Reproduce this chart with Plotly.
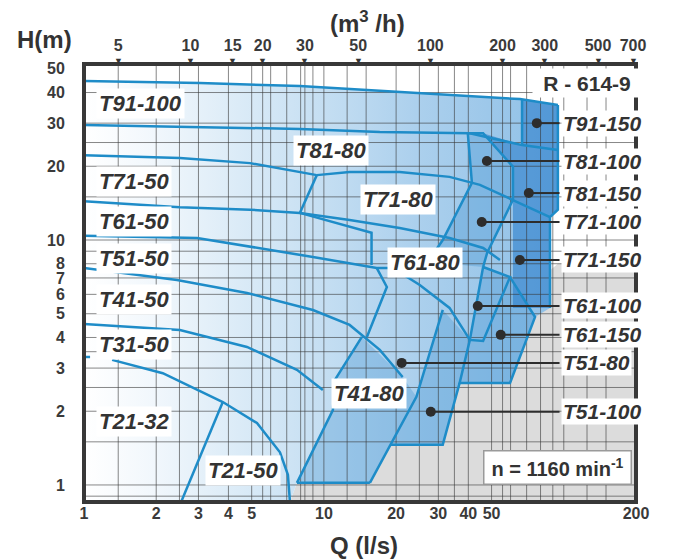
import math
import plotly.graph_objects as go

# ---------------- data ----------------
q_ticks = [1, 2, 3, 4, 5, 10, 20, 30, 40, 50, 200]          # l/s
h_ticks = [1, 2, 3, 4, 5, 6, 7, 8, 10, 20, 30, 40, 50]      # m
m3h_ticks = [5, 10, 15, 20, 30, 50, 100, 200, 300, 500, 700]  # m3/h (top axis)

grid_q = [1.389, 2, 2.5, 3, 4, 5, 5.556, 6, 7, 8, 8.333, 9, 10, 12.5, 15, 20, 25, 30,
          35, 40, 50, 55.56, 60, 70, 80, 90, 100, 125, 150]
grid_h = [0.9, 1, 1.5, 2, 2.5, 3, 3.5, 4, 5, 6, 7, 8, 9, 10, 15, 20, 25, 30, 40]

# pump curves / boundaries  (Q l/s, H m)
c_t91_max = [(1.0, 44.6), (3.04, 43.7), (7.94, 42.5), (20.7, 40.2), (33.4, 39.1), (65.7, 37.6), (94.5, 35.6)]
c_t81_max = [(1.0, 29.5), (3.04, 28.9), (7.94, 28.4), (17.1, 27.6), (40.6, 27.3), (67.0, 24.4), (94.5, 23.3)]
c_t91_split = [(67.0, 37.6), (67.0, 24.4)]
c_right_edge = [(94.5, 35.6), (94.5, 13.3), (87.6, 12.4), (87.6, 5.28)]
c_t71_50_max = [(1.0, 22.2), (2.51, 21.6), (4.92, 20.6), (9.34, 18.4)]
c_t71_80_max = [(9.34, 18.4), (12.8, 18.95), (20.7, 18.95), (33.4, 18.1), (44.7, 16.8), (61.4, 14.6), (87.6, 12.4)]
c_t81_100_box = [(41.4, 17.1), (39.8, 27.3), (46.1, 27.3), (61.4, 19.9), (61.4, 14.6)]
c_t61_max = [(1.0, 14.4), (2.51, 13.6), (4.92, 13.3), (7.94, 12.9), (15.8, 10.7), (15.8, 7.9)]
c_t71_split = [(7.94, 12.9), (9.34, 18.4)]
c_t71_min = [(7.94, 12.9), (12.8, 12.07), (20.7, 11.19), (33.4, 10.19), (46.1, 9.28), (54.2, 8.29)]
c_t71_100_left = [(41.4, 17.1), (31.3, 10.0), (27.1, 8.13)]
c_t71_100_right = [(61.4, 14.6), (47.9, 8.85), (46.1, 7.76)]
c_t61_min = [(1.0, 10.4), (2.96, 10.2), (9.0, 8.52), (16.6, 7.69), (19.36, 7.69), (25.1, 6.55), (33.4, 5.28), (40.6, 3.91)]
c_t51_50_right = [(16.6, 7.69), (18.3, 6.43), (15.11, 4.02)]
c_t61_100 = [(46.1, 7.76), (40.6, 3.91), (46.1, 3.87), (59.7, 7.06), (46.1, 7.76)]
c_t61_150 = [(59.7, 7.06), (75.9, 4.85), (59.7, 2.61), (36.8, 2.61), (40.6, 3.91)]
c_t41_max = [(1.0, 7.69), (2.44, 6.87), (4.78, 6.08), (9.0, 5.18), (12.8, 4.50), (17.1, 3.56), (21.3, 2.76)]
c_t41_80_left = [(14.4, 4.02), (11.1, 2.68), (10.9, 2.02), (7.72, 1.02)]
c_t41_80_bottom = [(7.72, 1.02), (15.55, 1.02)]
c_t41_80_right = [(15.55, 1.02), (24.3, 2.29), (31.3, 5.18)]
c_t51_100_bottom = [(19.0, 1.46), (31.3, 1.46), (36.8, 2.61)]
c_t31_max = [(1.0, 4.54), (2.51, 4.29), (4.78, 3.66), (7.72, 2.95), (9.9, 2.44)]
c_t31_dash = [(1.0, 3.33), (1.06, 3.33)]
c_t21_32_max = [(1.31, 3.24), (2.13, 2.86), (3.79, 2.18), (5.26, 1.79), (6.56, 1.36), (7.08, 1.10), (7.22, 0.852)]
c_t21_50_left = [(3.79, 2.18), (2.54, 0.852)]

# shaded areas (Q, H)
area_envelope = c_t91_max + [(94.5, 13.3), (87.6, 12.4), (87.6, 5.28), (75.9, 4.85), (59.7, 2.61),
                             (36.8, 2.61), (31.3, 1.46), (19.0, 1.46), (15.55, 1.02), (7.72, 1.02),
                             (7.22, 0.852), (1.0, 0.852)]
area_gray = [(7.22, 0.852), (200, 0.852), (200, 8.0), (94.5, 8.0), (7.72, 1.02)]
area_mid_a = [(39.8, 27.3), (46.1, 27.3), (61.4, 19.9), (61.4, 14.6), (47.9, 8.85), (46.1, 7.76),
              (27.1, 8.13), (31.3, 10.0), (41.4, 17.1)]
area_mid_b = [(46.1, 7.76), (59.7, 7.06), (75.9, 4.85), (59.7, 2.61), (36.8, 2.61), (40.6, 3.91)]
area_mid_c = [(15.55, 1.02), (24.3, 2.29), (31.3, 5.18), (40.6, 3.91), (36.8, 2.61), (31.3, 1.46), (19.0, 1.46)]
area_mid_d = [(14.4, 4.02), (11.1, 2.68), (10.9, 2.02), (7.72, 1.02), (15.55, 1.02), (24.3, 2.29), (21.3, 2.76)]
area_dark = [(67.0, 37.6), (94.5, 35.6), (94.5, 13.3), (87.6, 12.4), (87.6, 5.28), (61.4, 5.28),
             (61.4, 19.9), (46.1, 27.3), (67.0, 24.4)]

# labels
left_labels = ["T91-100", "T71-50", "T61-50", "T51-50", "T41-50", "T31-50", "T21-32"]
left_label_h = [36.2, 17.4, 11.85, 8.44, 5.69, 3.73, 1.824]
inner_labels = ["T81-80", "T71-80", "T61-80", "T41-80", "T21-50"]
inner_label_q = [10.7, 20.3, 26.4, 15.4, 4.60]
inner_label_h = [23.1, 14.7, 8.13, 2.37, 1.15]
right_labels = ["T91-150", "T81-100", "T81-150", "T71-100", "T71-150", "T61-100", "T61-150", "T51-80", "T51-100"]
right_label_h = [30.0, 21.0, 15.55, 11.85, 8.29, 5.38, 4.10, 3.15, 1.99]
right_dot_q = [77.2, 47.8, 71.5, 45.5, 65.6, 43.8, 54.6, 21.1, 27.9]

# ---------------- figure ----------------
LINE = "#1e8cc8"
TXT = "#333333"
FONT = "Liberation Sans, Arial, sans-serif"
Q_MIN, Q_MAX = 1.0, 200.0
H_MIN, H_MAX = 0.852, 52.3

fig = go.Figure()


def xy(pts):
    return [p[0] for p in pts], [p[1] for p in pts]


def area(pts, color):
    x, y = xy(pts)
    fig.add_trace(go.Scatter(x=x, y=y, mode="lines", fill="toself", line=dict(width=0),
                             fillcolor=color, hoverinfo="skip", showlegend=False))


area(area_gray, "#dcdcdc")
ex, ey = xy(area_envelope)
fig.add_trace(go.Scatter(x=ex, y=ey, mode="lines", fill="toself", line=dict(width=0),
                         fillgradient=dict(type="horizontal",
                                           colorscale=[[0, "#ffffff"], [0.15, "#f1f7fc"], [0.4, "#d2e6f5"],
                                                       [0.7, "#acd0ed"], [1, "#8fc0e7"]]),
                         hoverinfo="skip", showlegend=False))
for a in (area_mid_a, area_mid_b, area_mid_c, area_mid_d):
    area(a, "rgba(45,135,205,0.28)")
area(area_dark, "rgba(35,120,200,0.55)")

# grid
gx, gy = [], []
for q in grid_q:
    gx += [q, q, None]
    gy += [H_MIN, H_MAX, None]
for h in grid_h:
    gx += [Q_MIN, Q_MAX, None]
    gy += [h, h, None]
fig.add_trace(go.Scatter(x=gx, y=gy, mode="lines", line=dict(color="rgba(55,55,55,0.6)", width=1),
                         hoverinfo="skip", showlegend=False))

curves = [c_t91_max, c_t81_max, c_t91_split, c_right_edge, c_t71_50_max, c_t71_80_max, c_t81_100_box,
          c_t61_max, c_t71_split, c_t71_min, c_t71_100_left, c_t71_100_right, c_t61_min, c_t51_50_right,
          c_t61_100, c_t61_150, c_t41_max, c_t41_80_left, c_t41_80_bottom, c_t41_80_right,
          c_t51_100_bottom, c_t31_max, c_t31_dash, c_t21_32_max, c_t21_50_left]
for c in curves:
    x, y = xy(c)
    fig.add_trace(go.Scatter(x=x, y=y, mode="lines", line=dict(color=LINE, width=2.5),
                             hoverinfo="skip", showlegend=False))

# leader lines with dots
for q, h in zip(right_dot_q, right_label_h):
    fig.add_trace(go.Scatter(x=[q, 96.0], y=[h, h], mode="lines", line=dict(color="#2d2d2d", width=2),
                             hoverinfo="skip", showlegend=False))
fig.add_trace(go.Scatter(x=right_dot_q, y=right_label_h, mode="markers",
                         marker=dict(color="#2d2d2d", size=10), hoverinfo="skip", showlegend=False))

lab_font = dict(family=FONT, size=22, color=TXT, weight="bold", style="italic")
for t, h in zip(left_labels, left_label_h):
    fig.add_annotation(x=math.log10(1.12), y=math.log10(h), text=t, showarrow=False,
                       xanchor="left", yanchor="middle", font=lab_font, bgcolor="white", borderpad=2)
for t, q, h in zip(inner_labels, inner_label_q, inner_label_h):
    fig.add_annotation(x=math.log10(q), y=math.log10(h), text=t, showarrow=False,
                       xanchor="center", yanchor="middle", font=lab_font, bgcolor="white", borderpad=2)
for t, h in zip(right_labels, right_label_h):
    fig.add_annotation(x=math.log10(97.5), y=math.log10(h), text=t, showarrow=False,
                       xanchor="left", yanchor="middle",
                       font=dict(family=FONT, size=21, color=TXT, weight="bold", style="italic"),
                       bgcolor="white", borderpad=1)

# boxes
fig.add_annotation(xref="paper", yref="paper", x=0.911, y=0.957, text="R - 614-9", showarrow=False,
                   xanchor="center", yanchor="middle",
                   font=dict(family=FONT, size=21, color=TXT, weight="bold"), bgcolor="white",
                   width=106, height=26)
fig.add_annotation(xref="paper", yref="paper", x=0.857, y=0.078, text="n = 1160 min<sup>-1</sup>",
                   showarrow=False, xanchor="center", yanchor="middle",
                   font=dict(family=FONT, size=20, color=TXT, weight="bold"),
                   bgcolor="white", bordercolor="#9a9a9a", borderwidth=1.5, width=144, height=30)

# axis titles
fig.add_annotation(xref="paper", yref="paper", x=-0.071, y=1.055, text="H(m)", showarrow=False,
                   xanchor="center", yanchor="middle",
                   font=dict(family=FONT, size=24, color=TXT, weight="bold"))
fig.add_annotation(xref="paper", yref="paper", x=0.513, y=1.096, text="(m<sup>3</sup> /h)", showarrow=False,
                   xanchor="center", yanchor="middle",
                   font=dict(family=FONT, size=24, color=TXT, weight="bold"))
fig.add_annotation(xref="paper", yref="paper", x=0.507, y=-0.100, text="Q (l/s)", showarrow=False,
                   xanchor="center", yanchor="middle",
                   font=dict(family=FONT, size=24, color=TXT, weight="bold"))

# top-axis triangles
for v in m3h_ticks:
    fig.add_annotation(x=math.log10(v / 3.6), yref="paper", y=1.008, text="▼", showarrow=False,
                       xanchor="center", yanchor="middle", font=dict(size=9, color=TXT))

# frame
fig.add_shape(type="rect", xref="paper", yref="paper", x0=0, x1=1, y0=0, y1=1,
              line=dict(color="#383838", width=4), layer="above")

tick_font = dict(family=FONT, size=16, color="#3a3a3a", weight="bold")
# the page body has an 8px margin: the figure is sized/offset so the plot frame lands at 84..636 x 64..502
fig.update_layout(
    width=665, height=552, autosize=False,
    margin=dict(l=76, r=37, t=56, b=58),
    paper_bgcolor="white", plot_bgcolor="white",
    showlegend=False,
    xaxis=dict(type="log", range=[math.log10(Q_MIN), math.log10(Q_MAX)], tickvals=q_ticks,
               ticktext=[str(v) for v in q_ticks], showgrid=False, zeroline=False,
               ticks="", tickfont=tick_font),
    xaxis2=dict(type="log", range=[math.log10(Q_MIN), math.log10(Q_MAX)], overlaying="x", side="top",
                tickvals=[v / 3.6 for v in m3h_ticks], ticktext=[str(v) for v in m3h_ticks],
                showgrid=False, zeroline=False, ticks="outside", ticklen=6,
                tickcolor="rgba(0,0,0,0)", tickfont=tick_font),
    yaxis=dict(type="log", range=[math.log10(H_MIN), math.log10(H_MAX)], tickvals=h_ticks,
               ticktext=[str(v) for v in h_ticks], showgrid=False, zeroline=False,
               ticks="outside", ticklen=15, tickcolor="rgba(0,0,0,0)", tickfont=tick_font),
)
fig.add_trace(go.Scatter(x=[2], y=[2], xaxis="x2", mode="markers", marker=dict(opacity=0),
                         hoverinfo="skip", showlegend=False))

fig.write_html("out.html")
